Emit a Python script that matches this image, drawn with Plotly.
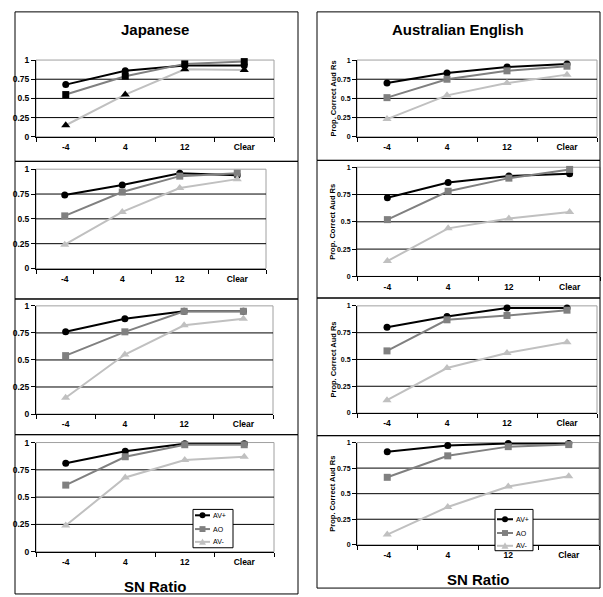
import plotly.graph_objects as go

# ---------------- data ----------------
categories = ["-4", "4", "12", "Clear"]
y_tick_vals = [0, 0.25, 0.5, 0.75, 1]
y_tick_text = ["0", "0.25", "0.5", "0.75", "1"]
grid_vals = [0.25, 0.5, 0.75]
series_names = ["AV+", "AO", "AV-"]

# Japanese column (rows 1-4)
jp1_avplus = [0.68, 0.86, 0.93, 0.93]
jp1_ao = [0.55, 0.79, 0.95, 0.98]
jp1_avminus = [0.15, 0.55, 0.88, 0.87]

jp2_avplus = [0.74, 0.84, 0.96, 0.94]
jp2_ao = [0.53, 0.77, 0.93, 0.96]
jp2_avminus = [0.24, 0.57, 0.81, 0.90]

jp3_avplus = [0.76, 0.88, 0.95, 0.95]
jp3_ao = [0.54, 0.76, 0.95, 0.95]
jp3_avminus = [0.15, 0.55, 0.82, 0.88]

jp4_avplus = [0.81, 0.92, 0.99, 0.99]
jp4_ao = [0.61, 0.87, 0.98, 0.98]
jp4_avminus = [0.24, 0.68, 0.84, 0.87]

# Australian English column (rows 1-4)
ae1_avplus = [0.70, 0.83, 0.91, 0.95]
ae1_ao = [0.51, 0.75, 0.86, 0.92]
ae1_avminus = [0.23, 0.54, 0.70, 0.81]

ae2_avplus = [0.72, 0.86, 0.92, 0.94]
ae2_ao = [0.52, 0.78, 0.90, 0.98]
ae2_avminus = [0.14, 0.44, 0.53, 0.59]

ae3_avplus = [0.80, 0.90, 0.98, 0.98]
ae3_ao = [0.58, 0.87, 0.91, 0.96]
ae3_avminus = [0.12, 0.42, 0.56, 0.66]

ae4_avplus = [0.91, 0.97, 0.99, 0.99]
ae4_ao = [0.66, 0.87, 0.96, 0.98]
ae4_avminus = [0.10, 0.37, 0.57, 0.67]

col_titles = ["Japanese", "Australian English"]
x_title = "SN Ratio"
y_title = "Prop. Correct Aud Rs"

# ---------------- styling / layout ----------------
W, H = 603, 597
FONT = "Liberation Sans, Arial, sans-serif"
C_AVP, C_AO, C_AVM = "#000000", "#808080", "#c0c0c0"
line_colors = [C_AVP, C_AO, C_AVM]
symbols = ["circle", "square", "triangle-up"]
msizes = [7, 7, 8]


def fx(px):
    return px / W


def fy(py):
    return 1 - py / H


# plot-area rectangles in pixels: (x0, x1, ytop, ybottom)
panels = [
    dict(area=(36, 274, 56, 134), data=[jp1_avplus, jp1_ao, jp1_avminus], black_markers=True, right=False),
    dict(area=(36, 266, 167, 268), data=[jp2_avplus, jp2_ao, jp2_avminus], black_markers=False, right=False),
    dict(area=(36, 273, 306, 416), data=[jp3_avplus, jp3_ao, jp3_avminus], black_markers=False, right=False),
    dict(area=(36, 274, 445, 556), data=[jp4_avplus, jp4_ao, jp4_avminus], black_markers=False, right=False),
    dict(area=(357, 597, 56, 134), data=[ae1_avplus, ae1_ao, ae1_avminus], black_markers=False, right=True),
    dict(area=(357, 600, 165, 276), data=[ae2_avplus, ae2_ao, ae2_avminus], black_markers=False, right=True),
    dict(area=(357, 597, 306, 415), data=[ae3_avplus, ae3_ao, ae3_avminus], black_markers=False, right=True),
    dict(area=(357, 599, 445, 549), data=[ae4_avplus, ae4_ao, ae4_avminus], black_markers=False, right=True),
]

xtickfont = dict(family=FONT, size=8.5, color="black", weight="bold")

fig = go.Figure()
shapes = []
annotations = []

for i, p in enumerate(panels):
    n = i + 1
    sfx = "" if n == 1 else str(n)
    xa, ya = "x" + sfx, "y" + sfx
    x0, x1, yt, yb = p["area"]
    for k in range(3):
        mcol = "black" if p["black_markers"] else line_colors[k]
        fig.add_trace(go.Scatter(
            x=categories, y=p["data"][k], name=series_names[k],
            mode="lines+markers", xaxis=xa, yaxis=ya, showlegend=False,
            cliponaxis=False,
            line=dict(color=line_colors[k], width=2),
            marker=dict(symbol=symbols[k], size=msizes[k], color=mcol,
                        line=dict(width=0)),
        ))
    ysize = 7 if p["right"] else 8.5
    fig.layout["xaxis" + sfx] = dict(
        domain=[fx(x0), fx(x1)], anchor=ya, type="category",
        categoryorder="array", categoryarray=categories,
        range=[-0.5, 3.5], showgrid=False, zeroline=False,
        showline=True, linecolor="black", linewidth=1,
        ticks="outside", tickson="boundaries", ticklen=4, tickcolor="black",
        tickfont=xtickfont, ticklabelstandoff=2, fixedrange=True,
    )
    fig.layout["yaxis" + sfx] = dict(
        domain=[fy(yb), fy(yt)], anchor=xa, range=[0, 1],
        tickmode="array", tickvals=y_tick_vals, ticktext=y_tick_text,
        showgrid=False, zeroline=False,
        showline=True, linecolor="black", linewidth=1,
        ticks="outside", ticklen=4, tickcolor="black",
        tickfont=dict(family=FONT, size=ysize, color="black", weight="bold"),
        fixedrange=True,
    )
    # grey plot-area border
    shapes.append(dict(type="rect", xref=xa + " domain", yref=ya + " domain",
                       x0=0, x1=1, y0=0, y1=1, layer="below",
                       line=dict(color="#a0a0a0", width=1)))
    # black horizontal gridlines
    for gv in grid_vals:
        shapes.append(dict(type="line", xref=xa + " domain", yref=ya,
                           x0=0, x1=1, y0=gv, y1=gv, layer="below",
                           line=dict(color="black", width=1)))
    if p["right"]:
        annotations.append(dict(
            text=y_title, textangle=-90, xref="paper", yref="paper",
            x=fx(333), y=fy((yt + yb) / 2), showarrow=False,
            xanchor="center", yanchor="middle",
            font=dict(family=FONT, size=7.5, color="black", weight="bold")))

# outer frames
frames = [
    (15, 298, 7, 159), (15, 298, 159, 299), (15, 298, 299, 437), (15, 298, 437, 599),
    (317, 600, 7, 158), (317, 600, 158, 298), (317, 600, 298, 438), (317, 600, 438, 593),
]
for (a, b, c, d) in frames:
    shapes.append(dict(type="rect", xref="paper", yref="paper",
                       x0=fx(a), x1=fx(b), y0=fy(d), y1=fy(c),
                       line=dict(color="black", width=1), layer="below"))

# column titles and x titles
for txt, cx in zip(col_titles, [155, 458]):
    annotations.append(dict(text=txt, xref="paper", yref="paper", x=fx(cx), y=fy(25),
                            showarrow=False, xanchor="center", yanchor="middle",
                            font=dict(family=FONT, size=15, color="black", weight="bold")))
for cx, cy in [(155, 591), (478, 584)]:
    annotations.append(dict(text=x_title, xref="paper", yref="paper", x=fx(cx), y=fy(cy),
                            showarrow=False, xanchor="center", yanchor="middle",
                            font=dict(family=FONT, size=15, color="black", weight="bold")))

# legends (drawn as key boxes)
legend_boxes = [
    dict(box=(193, 233, 513, 552), rows=[519, 533, 546], lx=(195, 210)),
    dict(box=(495, 533, 513, 555), rows=[523, 537, 550], lx=(497, 513)),
]
for lg in legend_boxes:
    a, b, c, d = lg["box"]
    shapes.append(dict(type="rect", xref="paper", yref="paper",
                       x0=fx(a), x1=fx(b), y0=fy(d), y1=fy(c),
                       fillcolor="white", line=dict(color="black", width=1), layer="above"))
    lx0, lx1 = lg["lx"]
    mx = (lx0 + lx1) / 2
    for k, ry in enumerate(lg["rows"]):
        col = line_colors[k]
        shapes.append(dict(type="line", xref="paper", yref="paper",
                           x0=fx(lx0), x1=fx(lx1), y0=fy(ry), y1=fy(ry),
                           line=dict(color=col, width=2), layer="above"))
        r = 3
        if k == 0:
            shapes.append(dict(type="circle", xref="paper", yref="paper",
                               x0=fx(mx - r), x1=fx(mx + r), y0=fy(ry + r), y1=fy(ry - r),
                               fillcolor=col, line=dict(width=0), layer="above"))
        elif k == 1:
            shapes.append(dict(type="rect", xref="paper", yref="paper",
                               x0=fx(mx - r), x1=fx(mx + r), y0=fy(ry + r), y1=fy(ry - r),
                               fillcolor=col, line=dict(width=0), layer="above"))
        else:
            path = "M {} {} L {} {} L {} {} Z".format(
                fx(mx), fy(ry - 3.5), fx(mx - 3.5), fy(ry + 3), fx(mx + 3.5), fy(ry + 3))
            shapes.append(dict(type="path", xref="paper", yref="paper", path=path,
                               fillcolor=col, line=dict(width=0), layer="above"))
        annotations.append(dict(text=series_names[k], xref="paper", yref="paper",
                                x=fx(lx1 + 1), y=fy(ry), showarrow=False,
                                xanchor="left", yanchor="middle",
                                font=dict(family=FONT, size=7, color="black")))

fig.update_layout(
    width=W, height=H, margin=dict(l=0, r=0, t=0, b=0),
    paper_bgcolor="white", plot_bgcolor="white",
    showlegend=False, shapes=shapes, annotations=annotations,
    font=dict(family=FONT, color="black"),
)

fig.write_html("out.html", config={"displayModeBar": False},
               post_script="document.body.style.margin='0';document.body.style.padding='0';")
